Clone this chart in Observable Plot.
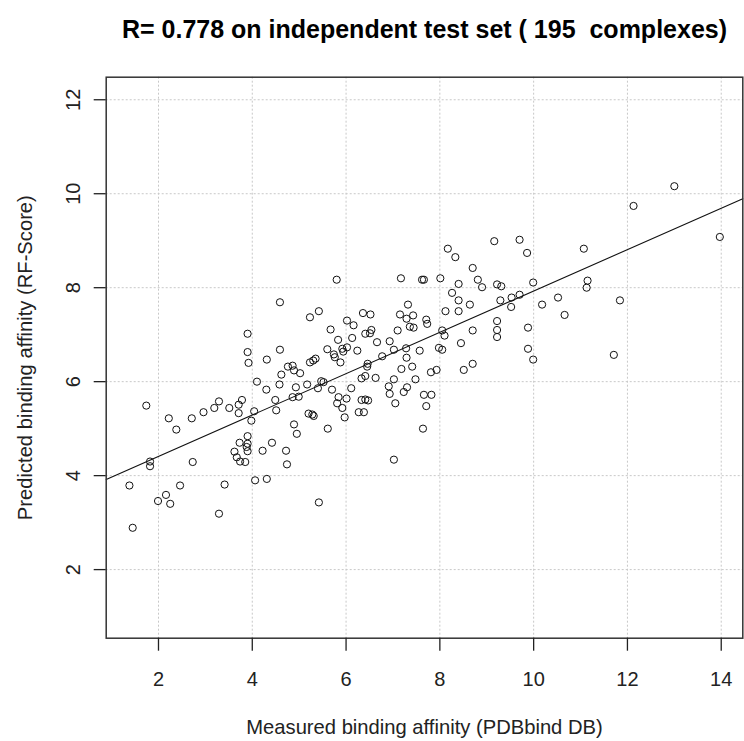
<!DOCTYPE html>
<html><head><meta charset="utf-8">
<script src="https://cdn.jsdelivr.net/npm/d3@7"></script>
<script src="https://cdn.jsdelivr.net/npm/@observablehq/plot@0.6"></script>
<style>
body{margin:0;background:#fff;}
#wrap{position:relative;width:744px;height:741px;background:#fff;}
#title{position:absolute;left:106px;width:637px;top:15px;text-align:center;font:bold 25px "Liberation Sans",Arial,sans-serif;line-height:28px;color:#000;white-space:pre;}
#chart{position:absolute;left:0;top:56px;}
</style></head><body>
<div id="wrap"><div id="title"></div><div id="chart"></div></div>
<script>
const titleText = "R= 0.778 on independent test set ( 195  complexes)";
const xLabel = "Measured binding affinity (PDBbind DB)";
const yLabel = "Predicted binding affinity (RF-Score)";
const xTicks = [2, 4, 6, 8, 10, 12, 14];
const yTicks = [2, 4, 6, 8, 10, 12];
const xDomain = [0.885, 14.46];
const yDomain = [0.54, 12.48];
const fitCoef = [3.53, 0.44]; // intercept, slope of the fitted line

const measured = [
4.59,3.90,3.90,3.92,4.59,4.31,4.10,4.30,4.58,4.62,4.76,4.86,4.89,5.02,4.93,4.86,4.99,4.49,4.51,4.89,
4.95,1.74,2.22,2.38,2.71,2.96,3.19,3.29,3.51,3.71,3.78,3.71,4.04,3.98,3.90,3.90,3.88,3.90,3.73,3.62,
3.67,3.74,3.85,4.22,4.42,4.72,4.74,1.82,1.82,2.73,1.38,1.99,2.16,2.25,2.46,3.41,4.06,4.31,3.29,1.45,
8.17,8.33,5.80,7.17,7.62,7.66,8.01,8.70,8.81,8.90,8.40,8.26,8.40,8.64,8.40,8.12,7.32,9.22,9.29,7.15,
7.29,7.43,7.36,7.44,7.71,7.73,7.10,6.93,7.02,7.28,7.29,7.57,8.05,8.10,7.98,8.05,8.70,8.45,9.22,9.22,
9.22,8.70,8.51,7.81,7.93,7.48,7.41,7.18,7.02,6.91,6.93,7.30,7.23,7.05,7.66,7.82,7.71,7.64,7.02,5.42,
5.23,5.42,5.67,5.83,6.02,6.16,6.36,6.52,6.41,6.54,6.51,6.13,6.66,6.02,5.92,5.94,6.24,5.60,5.74,5.76,
5.88,5.23,5.35,5.30,5.17,5.47,5.52,5.40,5.70,6.11,6.46,6.45,6.33,6.41,6.63,6.77,5.84,6.01,5.81,5.92,
5.97,6.33,6.41,6.47,6.27,6.38,5.20,5.28,5.31,5.61,9.16,
13.00,12.13,13.97,9.70,9.86,11.07,9.31,9.99,11.15,11.13,9.53,9.70,9.52,10.18,10.52,10.66,11.84,9.88,9.88,9.99,
11.71
];
const predicted = [
7.69,7.02,6.63,6.40,6.68,6.47,6.00,5.83,5.94,6.15,6.32,6.34,6.24,6.18,5.88,5.67,5.68,5.61,5.39,5.09,
4.89,5.49,5.22,4.98,5.22,5.35,5.44,5.58,5.44,5.51,5.61,5.33,5.37,5.17,4.84,4.68,4.61,4.52,4.70,4.51,
4.39,4.30,4.29,4.53,4.70,4.53,4.24,4.30,4.20,4.29,3.79,3.46,3.59,3.40,3.79,3.81,3.90,3.93,3.19,2.89,
8.83,8.65,8.17,8.20,8.17,8.17,8.20,8.42,8.17,8.01,8.08,7.89,7.73,7.64,7.50,7.50,7.64,8.07,7.73,7.43,
7.34,7.41,7.17,7.15,7.32,7.23,7.09,6.86,6.68,6.71,6.51,6.66,7.09,6.98,6.72,6.68,7.09,6.82,7.29,7.10,
6.95,6.38,6.25,6.20,6.25,6.05,6.32,6.27,6.05,5.90,5.74,5.88,5.78,5.54,5.72,5.72,5.48,5.00,4.34,3.43,
7.37,7.50,7.11,6.89,7.30,7.20,7.46,7.43,7.02,7.10,7.03,6.93,6.84,6.73,6.70,6.64,6.66,6.69,6.58,6.52,
6.41,6.41,6.49,6.45,5.94,6.01,5.99,5.86,5.83,5.86,6.38,6.32,6.07,6.12,6.08,6.54,5.67,5.64,5.54,5.44,
5.24,5.61,5.62,5.60,5.35,5.35,5.32,5.30,5.27,5.00,8.99,
10.16,9.74,9.08,9.02,8.74,8.83,8.03,8.11,8.15,8.00,7.79,7.85,7.59,7.64,7.79,7.42,7.73,7.15,6.70,6.47,
6.57
];

document.getElementById("title").textContent = titleText;

const points = measured.map((x, i) => ({x, y: predicted[i]}));
const fitLine = xDomain.map(x => ({x, y: fitCoef[0] + fitCoef[1] * x}));
const font = '"Liberation Sans", Arial, sans-serif';

const chart = Plot.plot({
  width: 744,
  height: 685,
  marginTop: 20.7,
  marginLeft: 105.7,
  marginRight: 1.7,
  marginBottom: 103.3,
  x: {domain: xDomain},
  y: {domain: yDomain},
  style: {fontFamily: font, fontSize: "20px", color: "#222", background: "#fff", overflow: "visible"},
  marks: [
    Plot.gridX({ticks: xTicks, stroke: "#c8c8c8", strokeOpacity: 1, strokeDasharray: "2,2"}),
    Plot.gridY({ticks: yTicks, stroke: "#c8c8c8", strokeOpacity: 1, strokeDasharray: "2,2"}),
    Plot.line(fitLine, {x: "x", y: "y", stroke: "#111", strokeWidth: 1.1}),
    Plot.dot(points, {x: "x", y: "y", r: 3.6, stroke: "#111", strokeWidth: 1, fill: "none"}),
    Plot.frame({stroke: "#333", strokeWidth: 1.5}),
    Plot.axisX({ticks: xTicks, tickSize: 13, tickPadding: 21, label: null, strokeWidth: 1.3, tickFormat: d => String(d)}),
    Plot.axisY({ticks: yTicks, tickSize: 12, tickPadding: 14, tickRotate: -90, textAnchor: "middle", lineAnchor: "bottom", label: null, strokeWidth: 1.3, tickFormat: d => String(d)}),
    Plot.text([xLabel], {text: d => d, frameAnchor: "bottom", dy: 96, lineAnchor: "bottom", textAnchor: "middle", fontSize: 20.2, fill: "#222"}),
    Plot.text([yLabel], {text: d => d, frameAnchor: "left", dx: -74, rotate: -90, lineAnchor: "bottom", textAnchor: "middle", fontSize: 20.2, fill: "#222"})
  ]
});
document.getElementById("chart").appendChild(chart);
</script>
</body></html>
